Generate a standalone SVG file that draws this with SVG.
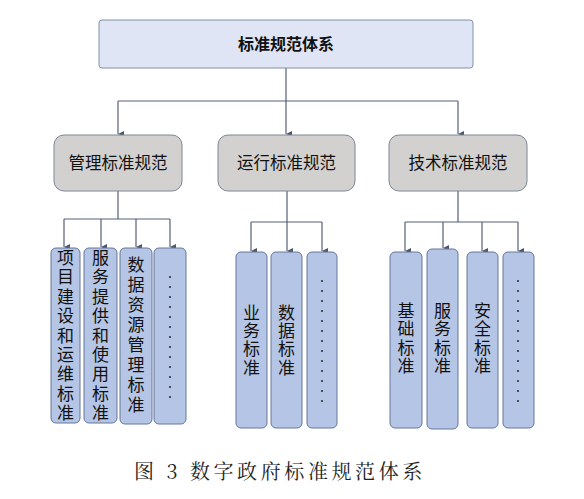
<svg xmlns="http://www.w3.org/2000/svg" width="584" height="499" viewBox="0 0 584 499">
<defs>
<marker id="ah" viewBox="0 0 8 8" refX="4" refY="8" markerWidth="6" markerHeight="6" markerUnits="userSpaceOnUse" orient="auto-start-reverse">
<path d="M0,0 L8,0 L4,8 Z" fill="#4d586c"/>
</marker>
<style>
.top{fill:#dfe5f4;stroke:#8290a8;stroke-width:1}
.cat{fill:#d3d1cf;stroke:#7c8696;stroke-width:1}
.leaf{fill:#b5c5e5;stroke:#66769a;stroke-width:1}
.ln{fill:none;stroke:#56607a;stroke-width:1.2}
.arr{fill:none;stroke:#56607a;stroke-width:1.2;marker-end:url(#ah)}
text{font-family:"Noto Sans CJK SC","DejaVu Sans",sans-serif;fill:#111;text-anchor:middle}
.t1{font-size:16px;font-weight:bold}
.t2{font-size:16.5px}
.v{font-size:17px;writing-mode:vertical-rl;text-anchor:start}
.dot{fill:#333}
.cap{font-family:"Noto Serif CJK SC","Liberation Serif","Noto Sans CJK SC",serif;font-size:20px;fill:#222;letter-spacing:3.6px}
</style>
</defs>
<g id="connectors">
<path class="ln" d="M286,68 V101 M118,101 H458"/>
<path class="arr" d="M118,101 V134"/>
<path class="arr" d="M286,101 V134"/>
<path class="arr" d="M458,101 V134"/>
<path class="ln" d="M118,191 V219 M64,219 H170"/>
<path class="arr" d="M64,219 V247"/>
<path class="arr" d="M101,219 V247"/>
<path class="arr" d="M136,219 V247"/>
<path class="arr" d="M170,219 V247"/>
<path class="ln" d="M287,191 V222 M251,222 H322"/>
<path class="arr" d="M251,222 V251"/>
<path class="arr" d="M287,222 V251"/>
<path class="arr" d="M322,222 V251"/>
<path class="ln" d="M458,191 V222 M405,222 H518"/>
<path class="arr" d="M405,222 V251"/>
<path class="arr" d="M443,222 V248"/>
<path class="arr" d="M482,222 V251"/>
<path class="arr" d="M518,222 V251"/>
</g>
<g id="root">
<rect class="top" x="99" y="20" width="374" height="48" rx="3"/>
<text class="t1" x="286" y="50">标准规范体系</text>
</g>
<g id="mgmt">
<rect class="cat" x="54" y="135" width="128" height="56" rx="10"/>
<text class="t2" x="118" y="169">管理标准规范</text>
</g>
<g id="ops">
<rect class="cat" x="218" y="135" width="137" height="56" rx="10"/>
<text class="t2" x="286.5" y="169">运行标准规范</text>
</g>
<g id="tech">
<rect class="cat" x="389" y="135" width="138" height="56" rx="10"/>
<text class="t2" x="458" y="169">技术标准规范</text>
</g>
<g id="m1">
<rect class="leaf" x="51" y="248" width="29" height="175" rx="5"/>
<text class="v" x="65.5" y="249" style="letter-spacing:2.4px">项目建设和运维标准</text>
</g>
<g id="m2">
<rect class="leaf" x="84" y="248" width="33" height="175" rx="5"/>
<text class="v" x="100.5" y="249" style="letter-spacing:2.4px">服务提供和使用标准</text>
</g>
<g id="m3">
<rect class="leaf" x="120" y="248" width="32" height="176" rx="5"/>
<text class="v" x="136" y="256" style="letter-spacing:3px">数据资源管理标准</text>
</g>
<g id="m4">
<rect class="leaf" x="154" y="248" width="32" height="176" rx="5"/>
<g class="dot"><circle cx="170" cy="277" r="1.1"/><circle cx="170" cy="287" r="1.1"/><circle cx="170" cy="297" r="1.1"/><circle cx="170" cy="307" r="1.1"/><circle cx="170" cy="317" r="1.1"/><circle cx="170" cy="327" r="1.1"/><circle cx="170" cy="337" r="1.1"/><circle cx="170" cy="347" r="1.1"/><circle cx="170" cy="357" r="1.1"/><circle cx="170" cy="367" r="1.1"/><circle cx="170" cy="377" r="1.1"/><circle cx="170" cy="387" r="1.1"/><circle cx="170" cy="397" r="1.1"/></g>
</g>
<g id="o1">
<rect class="leaf" x="236" y="252" width="31" height="176" rx="5"/>
<text class="v" x="251.5" y="304" style="letter-spacing:1.2px">业务标准</text>
</g>
<g id="o2">
<rect class="leaf" x="271" y="252" width="31" height="176" rx="5"/>
<text class="v" x="286.5" y="304" style="letter-spacing:1.2px">数据标准</text>
</g>
<g id="o3">
<rect class="leaf" x="307" y="252" width="30" height="176" rx="5"/>
<g class="dot"><circle cx="322" cy="281" r="1.1"/><circle cx="322" cy="291" r="1.1"/><circle cx="322" cy="301" r="1.1"/><circle cx="322" cy="311" r="1.1"/><circle cx="322" cy="321" r="1.1"/><circle cx="322" cy="331" r="1.1"/><circle cx="322" cy="341" r="1.1"/><circle cx="322" cy="351" r="1.1"/><circle cx="322" cy="361" r="1.1"/><circle cx="322" cy="371" r="1.1"/><circle cx="322" cy="381" r="1.1"/><circle cx="322" cy="391" r="1.1"/><circle cx="322" cy="401" r="1.1"/></g>
</g>
<g id="t1">
<rect class="leaf" x="390" y="252" width="32" height="176" rx="5"/>
<text class="v" x="406" y="302" style="letter-spacing:1.5px">基础标准</text>
</g>
<g id="t2">
<rect class="leaf" x="427" y="249" width="31" height="180" rx="5"/>
<text class="v" x="442.5" y="302" style="letter-spacing:1.5px">服务标准</text>
</g>
<g id="t3">
<rect class="leaf" x="467" y="252" width="31" height="176" rx="5"/>
<text class="v" x="482.5" y="302" style="letter-spacing:1.5px">安全标准</text>
</g>
<g id="t4">
<rect class="leaf" x="503" y="252" width="31" height="176" rx="5"/>
<g class="dot"><circle cx="518" cy="281" r="1.1"/><circle cx="518" cy="291" r="1.1"/><circle cx="518" cy="301" r="1.1"/><circle cx="518" cy="311" r="1.1"/><circle cx="518" cy="321" r="1.1"/><circle cx="518" cy="331" r="1.1"/><circle cx="518" cy="341" r="1.1"/><circle cx="518" cy="351" r="1.1"/><circle cx="518" cy="361" r="1.1"/><circle cx="518" cy="371" r="1.1"/><circle cx="518" cy="381" r="1.1"/><circle cx="518" cy="391" r="1.1"/><circle cx="518" cy="401" r="1.1"/></g>
</g>
<text class="cap" x="280" y="479">图 3 数字政府标准规范体系</text>
</svg>
